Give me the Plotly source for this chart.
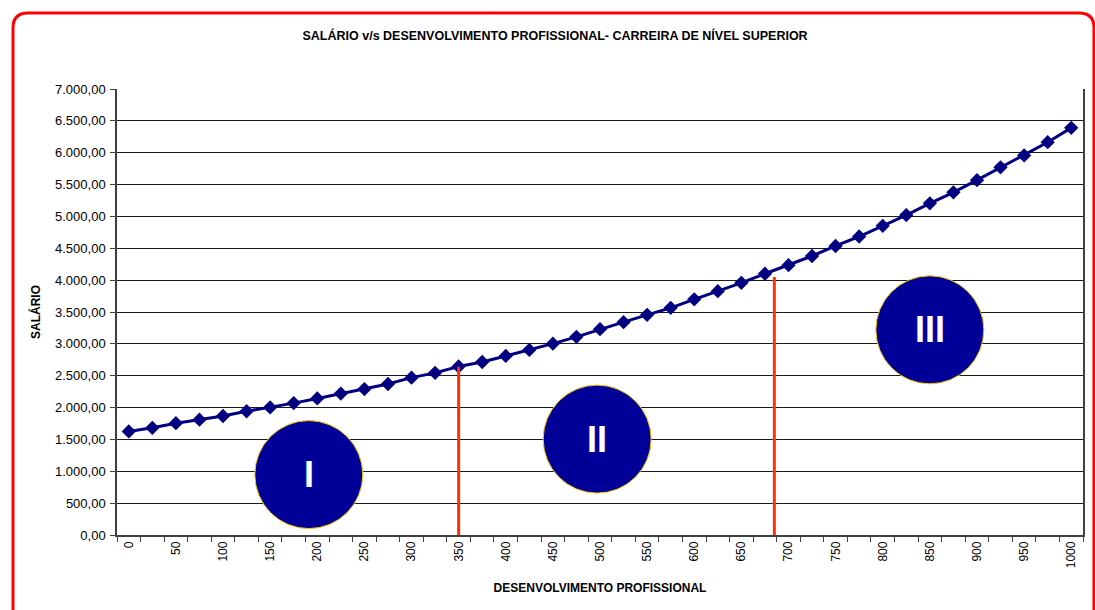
import plotly.graph_objects as go

# Desenvolvimento profissional (categorias) e salário correspondente
desenvolvimento = list(range(0, 1001, 25))
salario = [
    1625, 1682, 1755, 1810, 1868, 1942, 2003, 2070, 2143, 2220,
    2290, 2370, 2470, 2545, 2645, 2715, 2810, 2905, 3003, 3110,
    3230, 3340, 3455, 3565, 3699, 3827, 3958, 4100, 4235, 4379,
    4536, 4685, 4852, 5022, 5205, 5378, 5569, 5770, 5958, 6165,
    6390,
]

# Eixo Y: valores e rótulos no formato brasileiro
y_ticks = list(range(0, 7001, 500))
y_labels = [f"{v:,.2f}".replace(",", "X").replace(".", ",").replace("X", ".") for v in y_ticks]

# Eixo X: rótulos a cada 50, marcas nos limites das categorias
x_label_vals = list(range(0, 1001, 50))
x_boundaries = [v - 12.5 for v in desenvolvimento] + [1012.5]

# Divisões entre as faixas da carreira
divisa_x = [350, 685]
divisa_topo = [2640, 4050]
divisa_base = -155

# Faixas (I, II, III): posição dos círculos
faixas = ["I", "II", "III"]
faixa_x = [191, 497, 850]
faixa_y = [948, 1505, 3220]

FONT = "Liberation Sans, Arial, sans-serif"
NAVY = "#000080"

fig = go.Figure()

fig.add_trace(go.Scatter(
    x=desenvolvimento,
    y=salario,
    mode="lines+markers",
    line=dict(color=NAVY, width=3),
    marker=dict(symbol="diamond", size=11, color=NAVY),
    showlegend=False,
    hoverinfo="x+y",
))

shapes = []
for xv, top in zip(divisa_x, divisa_topo):
    shapes.append(dict(
        type="line", xref="x", yref="y",
        x0=xv, x1=xv, y0=divisa_base, y1=top,
        line=dict(color="#FF3300", width=3),
        layer="above",
    ))

R = 54
for xc, yc in zip(faixa_x, faixa_y):
    shapes.append(dict(
        type="circle", xref="x", yref="y",
        xsizemode="pixel", ysizemode="pixel",
        xanchor=xc, yanchor=yc,
        x0=-R, x1=R, y0=-R, y1=R,
        fillcolor="#000099",
        line=dict(color="#FFCC00", width=1),
        layer="above",
    ))

# Moldura vermelha arredondada ao redor do gráfico
shapes.append(dict(
    type="path", xref="paper", yref="paper",
    xsizemode="pixel", ysizemode="pixel",
    xanchor=0, yanchor=0,
    path=("M -104,-90 L -104,507 Q -104,522 -89,522 "
          "L 962,522 Q 977,522 977,507 L 977,-90"),
    line=dict(color="#FF0000", width=3),
    layer="above",
))

annotations = []
for txt, xc, yc in zip(faixas, faixa_x, faixa_y):
    annotations.append(dict(
        x=xc, y=yc, xref="x", yref="y",
        text=f"<b>{txt}</b>", showarrow=False,
        font=dict(family=FONT, size=36, color="white"),
        xanchor="center", yanchor="middle",
    ))

fig.update_layout(
    width=1095, height=610,
    margin=dict(l=117, r=10, t=89, b=75),
    paper_bgcolor="white",
    plot_bgcolor="white",
    font=dict(family=FONT, color="black"),
    title=dict(
        text="<b>SALÁRIO v/s DESENVOLVIMENTO PROFISSIONAL- CARREIRA DE NÍVEL SUPERIOR</b>",
        x=0.4535, xref="paper", xanchor="center",
        y=1 - 36 / 610, yref="container", yanchor="middle",
        font=dict(size=12.5, family=FONT, color="black"),
    ),
    shapes=shapes,
    annotations=annotations,
)

fig.update_xaxes(
    range=[-12.5, 1012.5],
    tickmode="array",
    tickvals=x_label_vals,
    ticktext=[str(v) for v in x_label_vals],
    tickangle=-90,
    ticks="",
    tickfont=dict(size=12, family=FONT, color="black"),
    showgrid=False,
    zeroline=False,
    showline=True,
    linecolor="#404040",
    linewidth=1.5,
    minor=dict(tickmode="array", tickvals=x_boundaries, ticks="outside",
               ticklen=5, tickcolor="#404040", showgrid=False),
    title=dict(text="<b>DESENVOLVIMENTO PROFISSIONAL</b>",
               font=dict(size=12, family=FONT, color="black"), standoff=16),
)

fig.update_yaxes(
    range=[0, 7000],
    tickmode="array",
    tickvals=y_ticks,
    ticktext=y_labels,
    ticks="outside",
    ticklen=5,
    tickcolor="#404040",
    tickfont=dict(size=13, family=FONT, color="black"),
    ticklabelstandoff=2,
    showgrid=True,
    gridcolor="#1a1a1a",
    gridwidth=1,
    zeroline=False,
    showline=True,
    linecolor="#404040",
    linewidth=1.5,
    mirror=True,
    title=dict(text="<b>SALÁRIO</b>",
               font=dict(size=12, family=FONT, color="black"), standoff=12),
)

fig.write_html("out.html")
